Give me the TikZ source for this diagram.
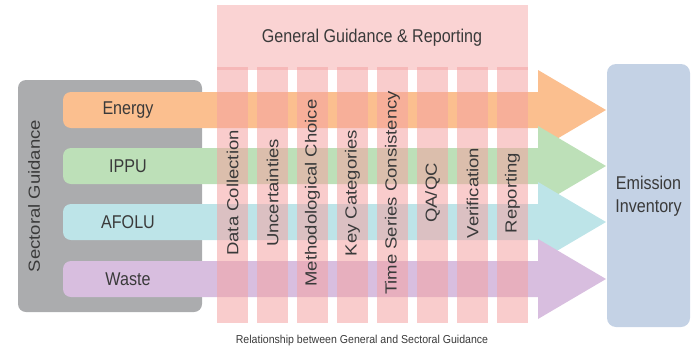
\documentclass[tikz,border=0pt]{standalone}
\usepackage{fontspec}
\setmainfont{Liberation Sans}
\usepackage{graphicx}
\definecolor{txt}{HTML}{3A3A3A}
\definecolor{graybox}{HTML}{ABACAE}
\definecolor{energyc}{HTML}{FBBF8F}
\definecolor{ippuc}{HTML}{BDE0B8}
\definecolor{afoluc}{HTML}{BDE4E8}
\definecolor{wastec}{HTML}{D8BEDF}
\definecolor{invc}{HTML}{C4D2E5}
\definecolor{topc}{HTML}{FAD3D3}
\definecolor{colc}{HTML}{F4A3A3}
\newcommand{\hsq}[1]{\scalebox{0.87}[1]{#1}}
\newcommand{\vsq}[1]{\scalebox{1}[0.87]{#1}}
\tikzset{
  lbl/.style={text=txt, inner sep=0pt, font=\fontsize{18.5}{23}\selectfont},
  vlbl/.style={lbl, rotate=90},
  colbar/.style={fill=colc, fill opacity=0.55},
}
\begin{document}
\begin{tikzpicture}[x=1pt,y=-1pt]
\useasboundingbox (0,0) rectangle (695,351);
% sectoral guidance box
\fill[graybox, rounded corners=8] (18,80) rectangle (202,312);
\node[vlbl] (sect) at (34,196) {\vsq{Sectoral Guidance}};
% arrows
\foreach \yc/\c/\nm in {110/energyc/en, 166/ippuc/ip, 222/afoluc/af, 279/wastec/wa}{
  \fill[\c, rounded corners=8] (63,\yc-18) rectangle (548,\yc+18);
  \fill[\c] (538,\yc-40) -- (606,\yc) -- (538,\yc+40) -- cycle;
}
\node[lbl] (energy) at (128,110) {\hsq{Energy}};
\node[lbl] (ippu) at (128,166) {\hsq{IPPU}};
\node[lbl] (afolu) at (128,222) {\hsq{AFOLU}};
\node[lbl] (waste) at (128,279) {\hsq{Waste}};
% general guidance box
\fill[topc] (217,5) rectangle (528,70);
\node[lbl] (gen) at (372,38) {\hsq{General Guidance \& Reporting}};
% columns
\foreach \i/\t/\nm in {0/Data Collection/c0, 1/Uncertainties/c1, 2/Methodological Choice/c2, 3/Key Categories/c3, 4/Time Series Consistency/c4, 5/QA\slash QC/c5, 6/Verification/c6, 7/Reporting/c7}{
  \fill[colbar] (217+40*\i,67) rectangle (248+40*\i,323);
  \node[vlbl] (\nm) at (232.5+40*\i,193) {\vsq{\t}};
}
% emission inventory
\fill[invc, rounded corners=9] (607,64) rectangle (690,327);
\node[lbl, align=center] (inv) at (648.5,196) {\hsq{Emission}\\\hsq{Inventory}};
% caption
\node[text=txt, inner sep=0pt, font=\fontsize{11.5}{13}\selectfont] (cap) at (362,341) {\scalebox{0.92}[1]{Relationship between General and Sectoral Guidance}};
\end{tikzpicture}
\end{document}
